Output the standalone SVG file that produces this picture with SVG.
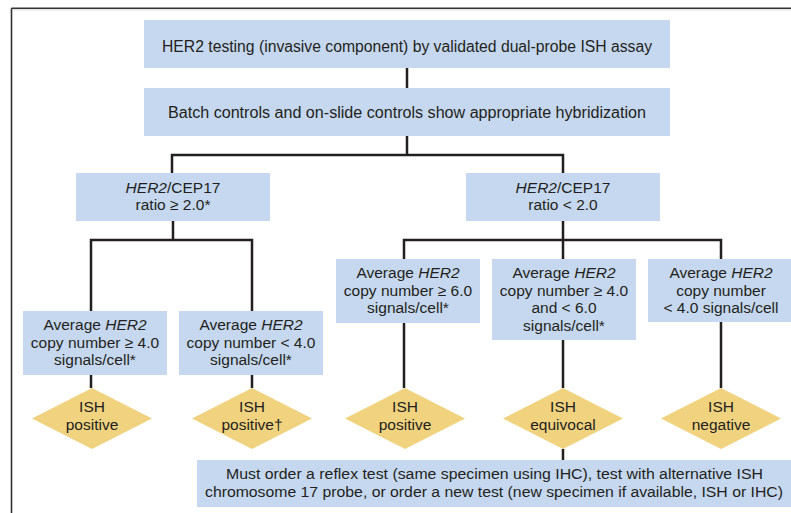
<svg xmlns="http://www.w3.org/2000/svg" width="791" height="513" viewBox="0 0 791 513">
  <style>
    .box { fill: #c6d8ef; }
    .dia { fill: #f0d27f; }
    .t { font-family: "Liberation Sans", Arial, sans-serif; font-size: 15.5px; fill: #231f20; text-anchor: middle; }
    .head { font-size: 16px; }
    .it { font-style: italic; }
    .wire { fill: none; stroke: #231f20; stroke-width: 2.5; }
    .frame { fill: none; stroke: #333; stroke-width: 1.6; }
  </style>

  <rect width="791" height="513" fill="#fff"/>

  <!-- outer frame (top and left edges) -->
  <g id="frame">
    <line x1="11.5" y1="8.2" x2="791" y2="8.2" class="frame"/>
    <line x1="12.3" y1="9.9" x2="791" y2="9.9" stroke="#d6d6d6" stroke-width="1"/>
    <line x1="11.5" y1="8.2" x2="11.5" y2="513" class="frame"/>
  </g>

  <!-- connectors -->
  <g id="connectors" class="wire">
    <path d="M407 68V88"/>
    <path d="M407 136V155M172 173V155H563V173"/>
    <path d="M173 221V240M91 311V240H252V311"/>
    <path d="M563 221V259M404 259V240H721V259"/>
    <path d="M91 375V388M252 375V388M404 323V388M563 340V388M721 322V388"/>
    <path d="M563 449V460"/>
  </g>

  <g id="n-testing">
    <rect class="box" x="144" y="20" width="526" height="48"/>
    <text class="t head" x="407" y="52" textLength="490" lengthAdjust="spacingAndGlyphs">HER2 testing (invasive component) by validated dual-probe ISH assay</text>
  </g>

  <g id="n-controls">
    <rect class="box" x="144" y="88" width="526" height="48"/>
    <text class="t head" x="407" y="118" textLength="478" lengthAdjust="spacingAndGlyphs">Batch controls and on-slide controls show appropriate hybridization</text>
  </g>

  <g id="n-ratio-high">
    <rect class="box" x="76" y="173" width="194" height="48"/>
    <text class="t" x="173" y="193"><tspan class="it">HER2</tspan>/CEP17</text>
    <text class="t" x="173" y="210">ratio ≥ 2.0*</text>
  </g>

  <g id="n-ratio-low">
    <rect class="box" x="466" y="173" width="194" height="48"/>
    <text class="t" x="563" y="193"><tspan class="it">HER2</tspan>/CEP17</text>
    <text class="t" x="563" y="210">ratio &lt; 2.0</text>
  </g>

  <g id="n-copy-ge4">
    <rect class="box" x="23" y="311" width="144" height="64"/>
    <text class="t" x="95" y="330">Average <tspan class="it">HER2</tspan></text>
    <text class="t" x="95" y="347.5">copy number ≥ 4.0</text>
    <text class="t" x="95" y="365">signals/cell*</text>
  </g>

  <g id="n-copy-lt4-a">
    <rect class="box" x="179" y="311" width="144" height="64"/>
    <text class="t" x="251" y="330">Average <tspan class="it">HER2</tspan></text>
    <text class="t" x="251" y="347.5">copy number &lt; 4.0</text>
    <text class="t" x="251" y="365">signals/cell*</text>
  </g>

  <g id="n-copy-ge6">
    <rect class="box" x="336" y="259" width="144" height="64"/>
    <text class="t" x="408" y="278">Average <tspan class="it">HER2</tspan></text>
    <text class="t" x="408" y="295.5">copy number ≥ 6.0</text>
    <text class="t" x="408" y="313">signals/cell*</text>
  </g>

  <g id="n-copy-4to6">
    <rect class="box" x="492" y="259" width="144" height="81"/>
    <text class="t" x="564" y="278">Average <tspan class="it">HER2</tspan></text>
    <text class="t" x="564" y="295.5">copy number ≥ 4.0</text>
    <text class="t" x="564" y="313">and &lt; 6.0</text>
    <text class="t" x="564" y="330.5">signals/cell*</text>
  </g>

  <g id="n-copy-lt4-b">
    <rect class="box" x="648" y="259" width="146" height="63"/>
    <text class="t" x="721" y="278">Average <tspan class="it">HER2</tspan></text>
    <text class="t" x="721" y="295.5">copy number</text>
    <text class="t" x="721" y="313">&lt; 4.0 signals/cell</text>
  </g>

  <g id="d-pos-1">
    <polygon class="dia" points="92,388 152,418.5 92,449 32,418.5"/>
    <text class="t" x="92" y="412">ISH</text>
    <text class="t" x="92" y="430">positive</text>
  </g>

  <g id="d-pos-2">
    <polygon class="dia" points="252,388 312,418.5 252,449 192,418.5"/>
    <text class="t" x="252" y="412">ISH</text>
    <text class="t" x="252" y="430">positive†</text>
  </g>

  <g id="d-pos-3">
    <polygon class="dia" points="405,388 465,418.5 405,449 345,418.5"/>
    <text class="t" x="405" y="412">ISH</text>
    <text class="t" x="405" y="430">positive</text>
  </g>

  <g id="d-equivocal">
    <polygon class="dia" points="563,388 623,418.5 563,449 503,418.5"/>
    <text class="t" x="563" y="412">ISH</text>
    <text class="t" x="563" y="430">equivocal</text>
  </g>

  <g id="d-negative">
    <polygon class="dia" points="721,388 781,418.5 721,449 661,418.5"/>
    <text class="t" x="721" y="412">ISH</text>
    <text class="t" x="721" y="430">negative</text>
  </g>

  <g id="n-reflex">
    <rect class="box" x="197" y="460" width="597" height="47"/>
    <text class="t" x="494.5" y="479" textLength="537" lengthAdjust="spacingAndGlyphs">Must order a reflex test (same specimen using IHC), test with alternative ISH</text>
    <text class="t" x="494" y="497" textLength="578" lengthAdjust="spacingAndGlyphs">chromosome 17 probe, or order a new test (new specimen if available, ISH or IHC)</text>
  </g>
</svg>
